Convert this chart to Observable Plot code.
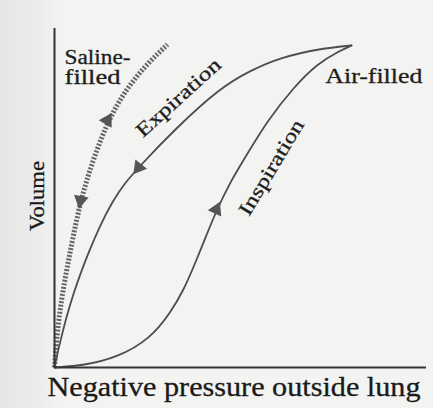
<!DOCTYPE html>
<html>
<head>
<meta charset="utf-8">
<script src="https://cdn.jsdelivr.net/npm/d3@7"></script>
<script src="https://cdn.jsdelivr.net/npm/@observablehq/plot@0.6"></script>
<style>
  html, body { margin: 0; padding: 0; background: #f0f0ee; }
  #chart svg { display: block; background: linear-gradient(to right, #e6e6e4 0px, #ececea 40px, #f3f3f1 60px); }
</style>
</head>
<body>
<div id="chart"></div>
<script>
// Pressure (x) and volume (y), both on a 0–100 relative scale
const inspirationX = [0, 7.80, 16.94, 25.81, 31.18, 34.68, 37.90, 40.59, 43.55, 47.04, 51.08, 57.26, 64.25, 70.70, 76.88, 79.84];
const inspirationY = [0, 0.59, 2.95, 8.55, 16.22, 22.71, 30.97, 38.35, 46.31, 54.28, 61.65, 72.86, 82.60, 89.68, 93.51, 94.99];

const expirationX = [0, 0.54, 1.61, 3.23, 5.11, 6.99, 9.14, 12.37, 15.59, 18.82, 22.58, 31.99, 44.62, 52.69, 60.75, 71.51, 79.84];
const expirationY = [0, 2.95, 7.96, 15.04, 21.83, 27.73, 33.92, 42.18, 48.97, 54.28, 59.00, 69.91, 82.60, 87.61, 91.45, 94.10, 94.99];

const salineX = [0, 0.54, 1.34, 2.42, 3.76, 5.11, 6.72, 8.60, 11.02, 13.71, 16.94, 20.70, 25.27, 30.38];
const salineY = [0, 7.96, 15.93, 23.60, 31.56, 39.23, 47.49, 55.16, 63.13, 70.80, 77.88, 84.07, 89.97, 95.28];

// Direction arrows on the curves
const arrowX = [22.6, 43.5, 7.0, 14.2];
const arrowY = [59.0, 46.6, 49.3, 72.9];
const arrowAngle = [-142, 25, 191, 30];

// Annotation labels
const labelText = ["Saline-", "filled", "Air-filled", "Expiration", "Inspiration"];
const labelX = [2.7, 2.7, 72.8, 33.3, 58.3];
const labelY = [89.4, 83.5, 83.8, 79.6, 59.0];
const labelAngle = [0, 0, 0, -42, -59];

const xAxisLabel = "Negative pressure outside lung";
const yAxisLabel = "Volume";

const toPts = (xs, ys) => xs.map((x, i) => ({x, y: ys[i]}));
const inspiration = toPts(inspirationX, inspirationY);
const expiration = toPts(expirationX, expirationY);
const saline = toPts(salineX, salineY);
const arrows = arrowX.map((x, i) => ({x, y: arrowY[i], angle: arrowAngle[i]}));
const labels = labelText.map((t, i) => ({t, x: labelX[i], y: labelY[i], a: labelAngle[i]}));

const font = "'Liberation Serif', 'DejaVu Serif', serif";
const ink = "#4d4d4d";

const chart = Plot.plot({
  width: 433,
  height: 408,
  marginLeft: 54,
  marginRight: 7,
  marginTop: 28,
  marginBottom: 41,
  x: {domain: [0, 100], axis: null},
  y: {domain: [0, 100], axis: null},
  style: {fontFamily: font},
  marks: [
    Plot.line(saline, {x: "x", y: "y", curve: "basis", stroke: "#666", strokeWidth: 5, strokeDasharray: "2,1.6", strokeLinecap: "butt"}),
    Plot.line(inspiration, {x: "x", y: "y", curve: "basis", stroke: ink, strokeWidth: 1.8}),
    Plot.line(expiration, {x: "x", y: "y", curve: "basis", stroke: ink, strokeWidth: 1.8}),
    Plot.dot(arrows, {x: "x", y: "y", rotate: "angle", symbol: "triangle", r: 5.5, fill: "#555", stroke: "none"}),
    Plot.ruleX([0], {stroke: "#333", strokeWidth: 2}),
    Plot.ruleY([0], {stroke: "#333", strokeWidth: 2}),
    ...labels.map(d => Plot.text([d], {
      x: "x", y: "y", text: "t", rotate: d.a,
      textAnchor: d.a === 0 ? "start" : "middle",
      lineAnchor: d.a === 0 ? "bottom" : "middle",
      fontFamily: font, fontSize: 20, fill: "#1e1e1e", stroke: "#1e1e1e", strokeWidth: 0.3
    })),
    Plot.text([xAxisLabel], {frameAnchor: "bottom", textAnchor: "middle", dx: -6.5, dy: 28, lineAnchor: "bottom", fontFamily: font, fontSize: 27, fill: "#1a1a1a", stroke: "#1a1a1a", strokeWidth: 0.3}),
    Plot.text([yAxisLabel], {frameAnchor: "left", textAnchor: "middle", dx: -11, dy: -2, rotate: -90, lineAnchor: "bottom", fontFamily: font, fontSize: 22, fill: "#1a1a1a", stroke: "#1a1a1a", strokeWidth: 0.3})
  ]
});

// Condensed, monospaced-looking lettering as in the printed figure
const textWidths = new Map([
  ["Saline-", 66], ["filled", 56], ["Air-filled", 97], ["Expiration", 107],
  ["Inspiration", 108], [xAxisLabel, 373], [yAxisLabel, 70]
]);
d3.select(chart).selectAll("text").each(function() {
  const w = textWidths.get(this.textContent);
  if (w) d3.select(this).attr("textLength", w).attr("lengthAdjust", "spacingAndGlyphs");
});

document.getElementById("chart").append(chart);
</script>
</body>
</html>
